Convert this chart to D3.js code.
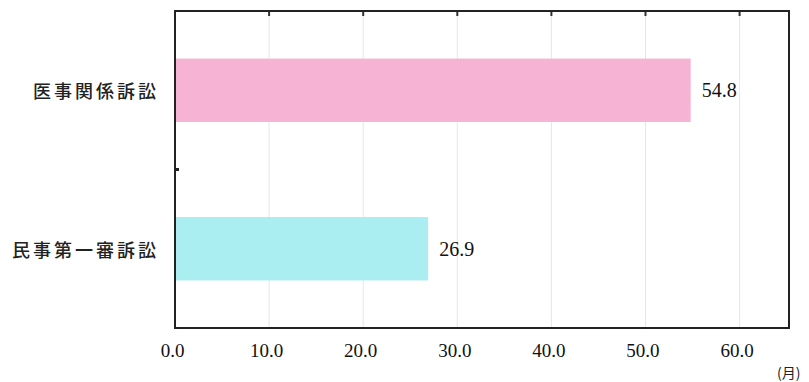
<!DOCTYPE html>
<html><head><meta charset="utf-8">
<script src="https://cdn.jsdelivr.net/npm/d3@7"></script>
<style>body{margin:0;background:#fff}</style>
</head><body>
<script>
const categories = ["医事関係訴訟", "民事第一審訴訟"];
const values = [54.8, 26.9];
const barColors = ["#f7b3d3", "#aaeef2"];
const tickValues = [0, 10, 20, 30, 40, 50, 60];
const unitLabel = "(月)";

(function () {
const W = 809, H = 382;
const svg = d3.select("body").append("svg").attr("width", W).attr("height", H);
const pL = 175, pR = 789, pT = 11, pB = 328;

const x = d3.scaleLinear().domain([0, 65.25]).range([pL, pR]);
const y = d3.scaleBand().domain(categories).range([pT, pB]).paddingInner(0.6).paddingOuter(0.3);

// grid
svg.append("g").selectAll("line").data(tickValues.filter(d => d > 0)).join("line")
  .attr("x1", d => x(d)).attr("x2", d => x(d)).attr("y1", pT).attr("y2", pB)
  .attr("stroke", "#e6e6e6").attr("stroke-width", 1);

// bars
svg.append("g").selectAll("rect").data(values).join("rect")
  .attr("x", x(0)).attr("y", (d, i) => y(categories[i]))
  .attr("width", d => x(d) - x(0)).attr("height", y.bandwidth())
  .attr("fill", (d, i) => barColors[i]);

// top tick marks
svg.append("g").selectAll("line").data(tickValues.filter(d => d > 0)).join("line")
  .attr("x1", d => x(d)).attr("x2", d => x(d)).attr("y1", pT).attr("y2", pT + 5)
  .attr("stroke", "#333").attr("stroke-width", 2);

// frame
svg.append("rect").attr("x", pL).attr("y", pT).attr("width", pR - pL).attr("height", pB - pT)
  .attr("fill", "none").attr("stroke", "#222").attr("stroke-width", 2);

// middle category divider tick
const mid = (y(categories[0]) + y.bandwidth() + y(categories[1])) / 2;
svg.append("line").attr("x1", pL).attr("x2", pL + 4).attr("y1", mid).attr("y2", mid)
  .attr("stroke", "#222").attr("stroke-width", 3);

// x axis labels
const xAxis = d3.axisBottom(x).tickValues(tickValues).tickFormat(d3.format(".1f")).tickSize(0).tickPadding(16);
const gx = svg.append("g").attr("transform", `translate(0,${pB})`).call(xAxis);
gx.select(".domain").remove();
gx.selectAll("text").attr("font-family", "Liberation Serif, serif").attr("font-size", 19)
  .attr("fill", "#111").attr("dx", -3);

// category labels
svg.append("g").selectAll("text").data(categories).join("text")
  .attr("x", 159).attr("y", d => y(d) + y.bandwidth() / 2)
  .attr("text-anchor", "end").attr("dominant-baseline", "central")
  .attr("font-family", "Noto Sans CJK JP").attr("font-weight", 500).attr("font-size", 18)
  .attr("letter-spacing", 3).attr("fill", "#222")
  .text(d => d);

// value labels
svg.append("g").selectAll("text").data(values).join("text")
  .attr("x", d => x(d) + 11).attr("y", (d, i) => y(categories[i]) + y.bandwidth() / 2)
  .attr("dominant-baseline", "central")
  .attr("font-family", "Liberation Serif, serif").attr("font-size", 20).attr("fill", "#111")
  .text(d => d.toFixed(1));

// unit
svg.append("text").attr("x", 777).attr("y", 378).attr("font-family", "Noto Sans CJK JP")
  .attr("font-size", 14).attr("fill", "#222").text(unitLabel);
})();
</script>
</body></html>
